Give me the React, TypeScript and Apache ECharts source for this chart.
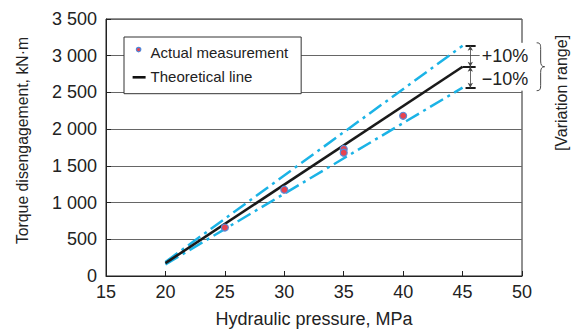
import React, { useEffect, useRef } from "react";
import * as echarts from "echarts";

// ---- data ----
const measuredPressure = [25, 30, 35, 35, 40];
const measuredTorque = [660, 1175, 1730, 1680, 2182];
const theoryPressure = [20, 45];
const theoryTorque = [175, 2850];
const upperTorque = [192, 3135];
const lowerTorque = [158, 2565];
const variationLabels = ["+10%", "\u221210%"];
const bracketPressure = { tickStart: 45.25, arrow: 45.65, end: 46.1 };

const FONT = "'Liberation Sans', Arial, Helvetica, sans-serif";

echarts.graphic.registerShape(
  "brace",
  echarts.graphic.extendPath(
    "M0,0 C4,0 4,2 4,7 L4,19 C4,23 5,25 8,25 C5,25 4,27 4,31 L4,43 C4,48 4,50 0,50",
    {}
  )
);

export default function App() {
  const ref = useRef<HTMLDivElement>(null);
  useEffect(() => {
    if (!ref.current) return;
    const chart = echarts.init(ref.current, null, { renderer: "svg" });
    const zip = (xs: number[], ys: number[]) => xs.map((x, i) => [x, ys[i]]);
    const topV = upperTorque[1];
    const midV = theoryTorque[1];
    const botV = lowerTorque[1];
    const seg = (x0: number, x1: number, y: number) => [
      { coord: [x0, y], symbol: "none" },
      { coord: [x1, y], symbol: "none" },
    ];
    const arrow = (y0: number, y1: number) => [
      { coord: [bracketPressure.arrow, y0], symbol: "arrow", symbolSize: [4, 5] },
      { coord: [bracketPressure.arrow, y1], symbol: "arrow", symbolSize: [4, 5] },
    ];
    const option: any = {
      animation: false,
      grid: {
        left: 106,
        right: 51,
        top: 19,
        bottom: 55,
        containLabel: false,
        outerBoundsMode: "none",
        show: true,
        borderColor: "#222",
        borderWidth: 1,
        backgroundColor: "transparent",
      },
      xAxis: {
        type: "value",
        min: 15,
        max: 50,
        interval: 5,
        name: "Hydraulic pressure, MPa",
        nameLocation: "middle",
        nameGap: 34,
        nameTextStyle: { fontFamily: FONT, fontSize: 18, color: "#222" },
        axisLine: { show: true, lineStyle: { color: "#222", width: 1 } },
        axisTick: { show: true, inside: true, length: 5, lineStyle: { color: "#222" } },
        axisLabel: { margin: 7, fontFamily: FONT, fontSize: 18, color: "#222" },
        splitLine: { show: false },
      },
      yAxis: {
        type: "value",
        min: 0,
        max: 3500,
        interval: 500,
        name: "Torque disengagement, kN\u00b7m",
        nameLocation: "middle",
        nameGap: 76,
        nameTextStyle: {
          fontFamily: FONT,
          fontSize: 15.8,
          color: "#222",
          padding: [0, 0, 0, 14],
        },
        axisLine: { show: true, lineStyle: { color: "#222", width: 1 } },
        axisTick: { show: true, inside: true, length: 5, lineStyle: { color: "#222" } },
        axisLabel: {
          margin: 9,
          fontFamily: FONT,
          fontSize: 18,
          color: "#222",
          formatter: (v: number) =>
            String(v).replace(/\B(?=(\d{3})+(?!\d))/g, " "),
        },
        splitLine: { show: true, lineStyle: { color: "#666", width: 1 } },
      },
      legend: {
        left: 124,
        top: 37,
        orient: "vertical",
        backgroundColor: "#fff",
        borderColor: "#333",
        borderWidth: 1,
        padding: [6, 13, 8, 8],
        itemGap: 5.5,
        itemWidth: 13,
        itemHeight: 18,
        textStyle: { fontFamily: FONT, fontSize: 15, color: "#222" },
        data: [
          {
            name: "Actual measurement",
            icon: "path://M0,0M13,18M3.8,6a2.2,2.2 0 1,0 4.4,0a2.2,2.2 0 1,0 -4.4,0z",
            itemStyle: { color: "#e8434f", borderColor: "#4f86d8", borderWidth: 1.2 },
          },
          {
            name: "Theoretical line",
            icon: "path://M0,0M13,18M0,8.3h13v2.6h-13z",
            itemStyle: { color: "#111", borderWidth: 0 },
          },
        ],
      },
      series: [
        {
          name: "+10%",
          type: "line",
          data: zip(theoryPressure, upperTorque),
          showSymbol: false,
          symbol: "none",
          lineStyle: { color: "#1bb3e6", width: 2.5, type: [15, 5, 3, 5] },
          z: 2,
        },
        {
          name: "-10%",
          type: "line",
          data: zip(theoryPressure, lowerTorque),
          showSymbol: false,
          symbol: "none",
          lineStyle: { color: "#1bb3e6", width: 2.5, type: [15, 5, 3, 5] },
          z: 2,
        },
        {
          name: "Theoretical line",
          type: "line",
          data: zip(theoryPressure, theoryTorque),
          showSymbol: false,
          symbol: "none",
          itemStyle: { color: "#111" },
          lineStyle: { color: "#1a1a1a", width: 2.6 },
          z: 3,
          markLine: {
            silent: true,
            animation: false,
            label: { show: false },
            lineStyle: { color: "#1a1a1a", width: 2, type: "solid" },
            data: [
              seg(bracketPressure.tickStart, bracketPressure.end, topV),
              seg(theoryPressure[1], bracketPressure.end, midV),
              seg(bracketPressure.tickStart, bracketPressure.end, botV),
              arrow(topV, midV).map((p) => ({ ...p, lineStyle: { color: "#444", width: 0.8 } })),
              arrow(midV, botV).map((p) => ({ ...p, lineStyle: { color: "#444", width: 0.8 } })),
            ],
          },
        },
        {
          name: "Actual measurement",
          type: "scatter",
          data: zip(measuredPressure, measuredTorque),
          symbol: "circle",
          symbolSize: 7,
          itemStyle: {
            color: "#e8434f",
            borderColor: "#5a8ad6",
            borderWidth: 1.2,
            opacity: 1,
          },
          z: 5,
        },
      ],
    };
    chart.setOption(option);

    const px = (x: number, y: number) =>
      chart.convertToPixel({ gridIndex: 0 }, [x, y]) as number[];
    const pTop = px(bracketPressure.end, topV);
    const pMid = px(bracketPressure.end, midV);
    const pBot = px(bracketPressure.end, botV);
    const frameRight = px(50, 0)[0];
    const textX = pTop[0] + 4;
    const labelStyle = {
      fontFamily: FONT,
      fontSize: 18,
      fill: "#222",
      align: "left",
      verticalAlign: "middle",
      backgroundColor: "#fff",
      padding: [1, 2, 1, 2],
    };
    chart.setOption({
      graphic: [
        {
          type: "rect",
          z: 100,
          shape: { x: frameRight - 4, y: pTop[1] - 3, width: 8, height: pBot[1] - pTop[1] + 6 },
          style: { fill: "#fff" },
        },
        {
          type: "text",
          z: 101,
          x: textX,
          y: (pTop[1] + pMid[1]) / 2,
          style: { ...labelStyle, text: variationLabels[0] },
        },
        {
          type: "text",
          z: 101,
          x: textX,
          y: (pMid[1] + pBot[1]) / 2 + 2,
          style: { ...labelStyle, text: variationLabels[1] },
        },
        {
          type: "brace",
          z: 101,
          x: textX + 57,
          y: pTop[1] - 3,
          scaleY: (pBot[1] - pTop[1] + 6) / 50,
          style: { fill: "none", stroke: "#444", lineWidth: 1 },
        },
        {
          type: "text",
          z: 101,
          x: textX + 82,
          y: 93,
          rotation: Math.PI / 2,
          style: {
            text: "[Variation range]",
            fontFamily: FONT,
            fontSize: 16,
            fill: "#222",
            align: "center",
            verticalAlign: "middle",
          },
        },
      ],
    });
    return () => chart.dispose();
  }, []);
  return <div ref={ref} style={{ width: 573, height: 331, position: "absolute", left: 0, top: 0 }} />;
}
